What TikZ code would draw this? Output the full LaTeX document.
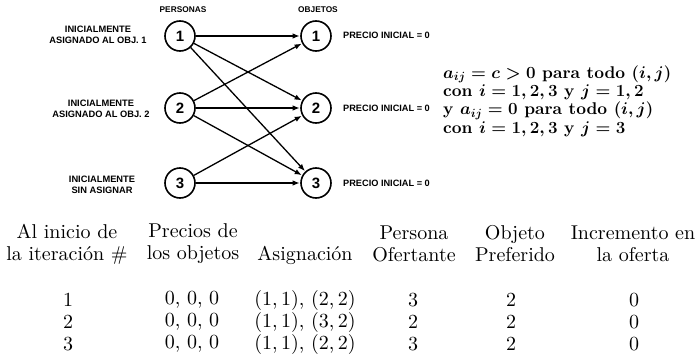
\RequirePackage{fix-cm}
\documentclass[tikz,border=0pt]{standalone}
\usepackage{fontspec}
\setmainfont{lmroman10-regular}[Extension=.otf, BoldFont=lmroman10-bold,
  ItalicFont=lmroman10-italic, BoldItalicFont=lmroman10-bolditalic]
\newfontfamily\capsfont{Liberation Sans}
\usetikzlibrary{arrows.meta}

\tikzset{
  person/.style={circle, draw, line width=1.6pt, minimum size=30pt, inner sep=0pt,
    font=\capsfont\bfseries\fontsize{15}{15}\selectfont},
  edge/.style={line width=1.3pt, -{Latex[length=7pt,width=5.5pt]}, shorten >=0.5pt},
  caps/.style={font=\capsfont\bfseries\fontsize{9.3}{11.5}\selectfont, align=center, inner sep=0pt},
  head/.style={font=\capsfont\bfseries\fontsize{8.3}{10}\selectfont, inner sep=0pt},
  price/.style={font=\capsfont\bfseries\fontsize{9.2}{10}\selectfont, anchor=west, inner sep=0pt},
  cond/.style={font=\bfseries\boldmath\fontsize{17}{18.3}\selectfont, align=left, anchor=west, inner sep=0pt},
  cell/.style={font=\fontsize{20}{22}\selectfont, align=center, inner sep=0pt},
}

\begin{document}
\begin{tikzpicture}[x=1pt,y=-1pt]
  \useasboundingbox[fill=white] (0,0) rectangle (697,359);

  % column headings of the bipartite graph
  \node[head] (hp) at (183,10) {PERSONAS};
  \node[head] (ho) at (318,10) {OBJETOS};

  % persons and objects
  \node[person] (p1) at (180,36)  {1};
  \node[person] (p2) at (180,108) {2};
  \node[person] (p3) at (180,183) {3};
  \node[person] (o1) at (316,36)  {1};
  \node[person] (o2) at (316,108) {2};
  \node[person] (o3) at (316,183) {3};

  % initial state of each person
  \node[caps] (l1) at (98,35)  {INICIALMENTE\\ASIGNADO AL OBJ. 1};
  \node[caps] (l2) at (101,109) {INICIALMENTE\\ASIGNADO AL OBJ. 2};
  \node[caps] (l3) at (102,185) {INICIALMENTE\\SIN ASIGNAR};

  % initial prices
  \node[price] (r1) at (343,35)  {PRECIO INICIAL = 0};
  \node[price] (r2) at (343,108) {PRECIO INICIAL = 0};
  \node[price] (r3) at (343,183) {PRECIO INICIAL = 0};

  % possible bids
  \draw[edge] (p1) -- (o1);
  \draw[edge] (p1) -- (o2);
  \draw[edge] (p1) -- (o3);
  \draw[edge] (p2) -- (o1);
  \draw[edge] (p2) -- (o2);
  \draw[edge] (p2) -- (o3);
  \draw[edge] (p3) -- (o2);
  \draw[edge] (p3) -- (o3);

  % benefit values
  \node[cond] (c) at (443,101) {%
    $a_{ij} = c > 0$ para todo $(i,j)$\\
    con $i = 1,2,3$ y $j = 1,2$\\
    y $a_{ij} = 0$ para todo $(i,j)$\\
    con $i = 1,2,3$ y $j = 3$};

  % table of iterations: headings
  \node[cell] (t1) at (67,244)  {Al inicio de\\la iteración \#};
  \node[cell] (t2) at (193,244) {Precios de\\los objetos};
  \node[cell] (t3) at (305,255) {Asignación};
  \node[cell] (t4) at (414,244) {Persona\\Ofertante};
  \node[cell] (t5) at (515,244) {Objeto\\Preferido};
  \node[cell] (t6) at (633,244) {Incremento en\\la oferta};

  % table rows
  \foreach \y/\it/\asg/\who in {300/1/{(1,\,1), (2,\,2)}/3, 322/2/{(1,\,1), (3,\,2)}/2, 344/3/{(1,\,1), (2,\,2)}/3} {
    \node[cell] at (68,\y)  {\it};
    \node[cell] at (192,\y) {0, 0, 0};
    \node[cell] at (305,\y) {\asg};
    \node[cell] at (413,\y) {\who};
    \node[cell] at (511,\y) {2};
    \node[cell] at (634,\y) {0};
  }
\end{tikzpicture}
\end{document}
